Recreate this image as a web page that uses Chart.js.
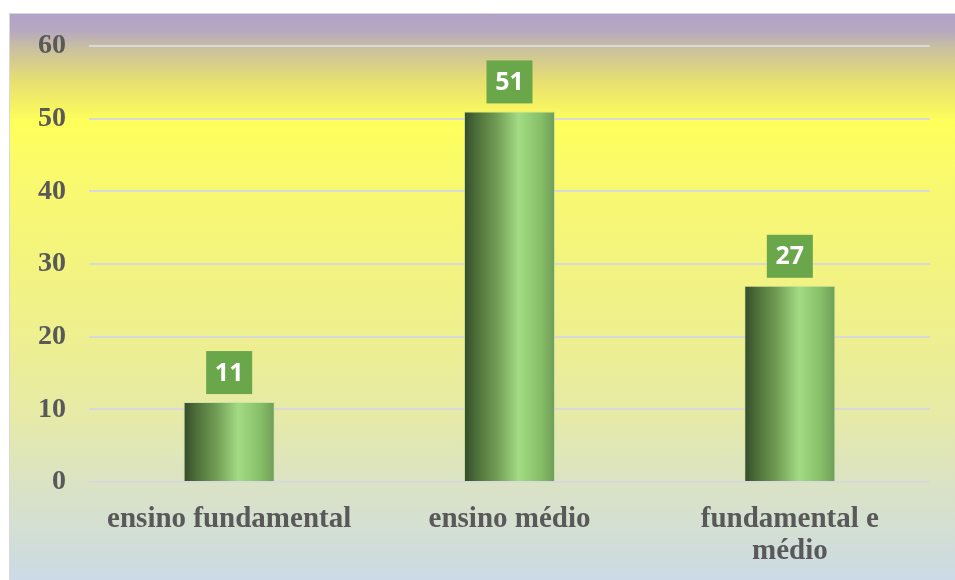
<!DOCTYPE html>
<html><head><meta charset="utf-8">
<script src="https://cdn.jsdelivr.net/npm/chart.js@4.4.1/dist/chart.umd.min.js"></script>
<style>html,body{margin:0;padding:0;background:#fff;overflow:hidden}#wrap{width:955px;height:580px;position:relative}</style>
</head><body><div id="wrap"><canvas id="c" width="955" height="580"></canvas></div>
<script>
const categories = ['ensino fundamental', 'ensino médio', ['fundamental e', 'médio']];
const values = [11, 51, 27];
const yTickMin = 0;
const yTickMax = 60;
const yTickStep = 10;

const BAR_PCT = 0.325;

const bgPlugin = {
  id: 'bg',
  beforeDraw(chart) {
    const c = chart.ctx;
    c.save();
    c.fillStyle = '#ffffff';
    c.fillRect(0, 0, chart.width, chart.height);
    const top = 13, left = 9;
    const g = c.createLinearGradient(0, top, 0, chart.height);
    const H = chart.height - top;
    const stop = (y, col) => g.addColorStop(Math.min(1, Math.max(0, (y - top) / H)), col);
    stop(13, '#b3a2c9');
    stop(30, '#b6a7c2');
    stop(48, '#c9c0a0');
    stop(80, '#e6de72');
    stop(122, '#ffff5a');
    stop(170, '#fafa6c');
    stop(260, '#f3f47e');
    stop(340, '#eeef90');
    stop(420, '#e5eaa9');
    stop(480, '#dbe3c3');
    stop(530, '#d3dfd3');
    stop(580, '#cbdae6');
    c.fillStyle = g;
    c.fillRect(left, top, chart.width - left, chart.height - top);
    c.strokeStyle = '#d9d9d9';
    c.lineWidth = 1;
    c.beginPath();
    c.moveTo(left + 0.5, chart.height);
    c.lineTo(left + 0.5, top + 0.5);
    c.lineTo(chart.width, top + 0.5);
    c.stroke();
    c.restore();
  }
};

const labelPlugin = {
  id: 'boxLabels',
  afterDatasetsDraw(chart) {
    const c = chart.ctx;
    const meta = chart.getDatasetMeta(0);
    c.save();
    meta.data.forEach((bar, i) => {
      const w = 46, h = 43;
      const x = bar.x - w / 2;
      const y = bar.y - 8 - h;
      c.fillStyle = '#6aa64a';
      c.fillRect(x, y, w, h);
      c.fillStyle = '#ffffff';
      c.font = 'bold 25px "Open Sans", sans-serif';
      c.textAlign = 'center';
      c.textBaseline = 'middle';
      c.fillText(String(values[i]), bar.x, y + h / 2 + 1);
    });
    c.restore();
  }
};

function barGradient(ctx) {
  const chart = ctx.chart;
  const xs = chart.scales && chart.scales.x;
  if (!xs || ctx.type !== 'data' || !chart.chartArea) return '#7ab05a';
  const cx = xs.getPixelForValue(ctx.dataIndex);
  const w = xs.width / values.length * BAR_PCT;
  const g = chart.ctx.createLinearGradient(cx - w / 2, 0, cx + w / 2, 0);
  g.addColorStop(0, '#34492a');
  g.addColorStop(0.12, '#4a6b37');
  g.addColorStop(0.35, '#6f9b52');
  g.addColorStop(0.6, '#a3da84');
  g.addColorStop(0.85, '#86bd67');
  g.addColorStop(1, '#6f9c58');
  return g;
}

new Chart(document.getElementById('c'), {
  type: 'bar',
  data: {
    labels: categories,
    datasets: [{
      data: values,
      backgroundColor: barGradient,
      borderColor: 'rgba(190,225,160,0.7)',
      borderWidth: 1,
      barPercentage: BAR_PCT,
      categoryPercentage: 1
    }]
  },
  options: {
    responsive: false,
    animation: false,
    devicePixelRatio: 1,
    layout: { padding: { top: 46, right: 25, left: 0, bottom: 0 } },
    plugins: { legend: { display: false }, tooltip: { enabled: false } },
    scales: {
      x: {
        grid: { display: false },
        border: { display: false },
        ticks: {
          color: '#595959',
          font: { family: '"Liberation Serif", "Times New Roman", serif', size: 29, weight: 'bold', lineHeight: 1.1 },
          padding: 14,
          maxRotation: 0,
          autoSkip: false
        },
        afterFit(s) { s.height = 98; }
      },
      y: {
        min: yTickMin,
        max: yTickMax,
        border: { display: false },
        grid: { color: '#d9d9d9', lineWidth: 2, drawTicks: false },
        ticks: {
          stepSize: yTickStep,
          color: '#595959',
          font: { family: '"Liberation Serif", "Times New Roman", serif', size: 28, weight: 'bold' },
          padding: 23
        },
        afterFit(s) { s.width = 89; }
      }
    }
  },
  plugins: [bgPlugin, labelPlugin]
});
</script>
</body></html>
